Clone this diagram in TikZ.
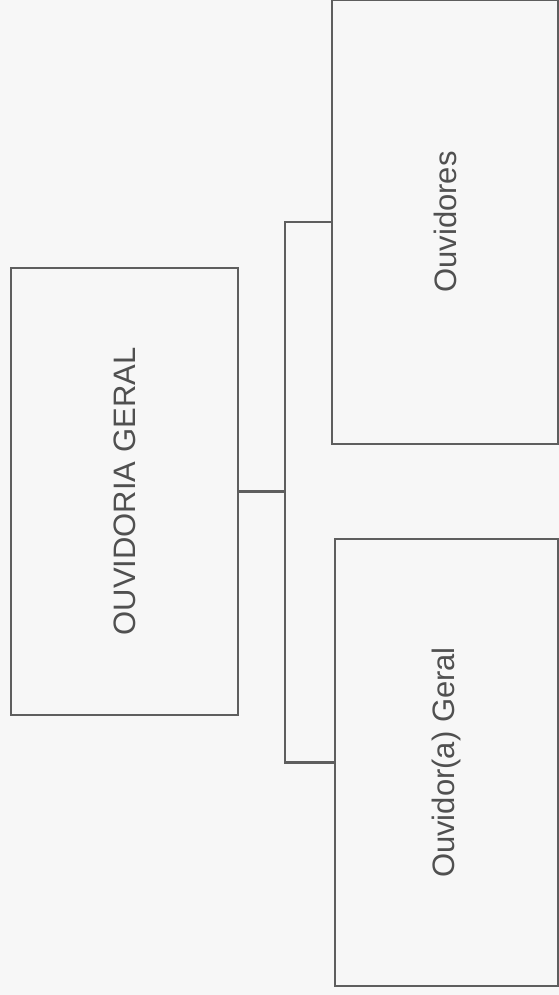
\documentclass[tikz,border=0pt]{standalone}
\usepackage{fontspec}
\setmainfont{Liberation Sans}
\definecolor{bg}{HTML}{F7F7F7}
\definecolor{ln}{HTML}{5E5E5E}
\definecolor{tx}{HTML}{505050}
\begin{document}
\begin{tikzpicture}[x=1pt,y=-1pt,
  box/.style={draw=ln, line width=2.6pt, rectangle, inner sep=0pt, text=tx,
    font=\fontsize{31}{37}\selectfont},
  conn/.style={draw=ln, line width=2.6pt}]
\fill[bg] (0,0) rectangle (559,995);
\useasboundingbox (0,0) rectangle (559,995);
\node[box, minimum width=227pt, minimum height=447pt] (L) at (124.5,491.5) {\rotatebox{90}{OUVIDORIA GERAL}};
\node[box, minimum width=226pt, minimum height=444pt] (T) at (445,222) {\rotatebox{90}{Ouvidores}};
\node[box, minimum width=223pt, minimum height=447pt] (B) at (446.5,762.5) {\rotatebox{90}{Ouvidor(a) Geral}};
\coordinate (j) at (285,0);
\draw[conn] (L.east) -- (L.east -| j);
\draw[conn] (T.west) -- (T.west -| j) -- (B.west -| j) -- (B.west);
\end{tikzpicture}
\end{document}
